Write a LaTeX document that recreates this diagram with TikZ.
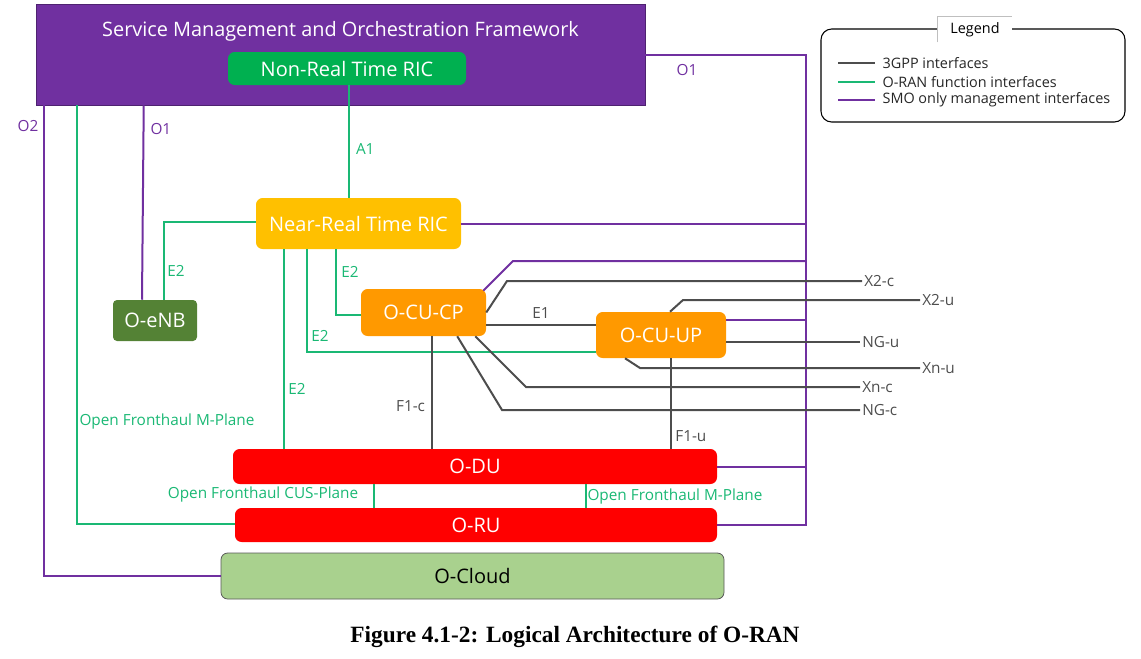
\documentclass[tikz,border=0pt]{standalone}
\usepackage{fontspec}
\setmainfont{Open Sans}
\newfontfamily\captionfont{Liberation Serif}
\usepackage{xcolor}
\definecolor{smocolour}{RGB}{112,48,160}
\definecolor{nonrtcolour}{RGB}{0,176,80}
\definecolor{nearrtcolour}{RGB}{255,192,0}
\definecolor{enbcolour}{RGB}{84,130,53}
\definecolor{cucolour}{RGB}{255,153,0}
\definecolor{ducolour}{RGB}{255,0,0}
\definecolor{cloudcolour}{RGB}{169,209,142}
\definecolor{gppcolour}{RGB}{77,77,77}
\definecolor{orancolour}{RGB}{26,184,116}
\usetikzlibrary{calc}
\tikzstyle{smobox} = [rectangle, fill=smocolour, draw=smocolour!70!black, line width=0.4pt, inner sep=0pt]
\tikzstyle{block} = [rectangle, rounded corners=5pt, text centered, text=white, inner sep=0pt, font=\fontsize{15}{17}\selectfont]
\tikzstyle{cloudblock} = [block, fill=cloudcolour, draw=gray!70!black, line width=0.6pt, text=black]
\tikzstyle{gppline} = [line width=1.5pt, draw=gppcolour]
\tikzstyle{oranline} = [line width=1.5pt, draw=orancolour]
\tikzstyle{smoline} = [line width=1.5pt, draw=smocolour]
\tikzstyle{gpplabel} = [text=gppcolour, inner sep=1.5pt, font=\fontsize{11.5}{13}\selectfont]
\tikzstyle{oranlabel} = [gpplabel, text=orancolour]
\tikzstyle{smolabel} = [gpplabel, text=smocolour]
\tikzstyle{legendtext} = [anchor=west, inner sep=1pt, text=black!85, font=\fontsize{10.8}{12}\selectfont]

\begin{document}
\begin{tikzpicture}[x=0.75pt, y=-0.75pt]
	\useasboundingbox (0,0) rectangle (1141,658);
	% functions
	\node (smo) [smobox, minimum width=456.75pt, minimum height=75.75pt] at (340.5,54.5) {};
	\node (smotitle) [text=white, font=\fontsize{14.9}{16}\selectfont] at (340.5,31) {Service Management and Orchestration Framework};
	\node (nonrt) [block, fill=nonrtcolour, minimum width=178.5pt, minimum height=24.75pt] at (347,68.5) {Non-Real Time RIC};
	\node (nearrt) [block, fill=nearrtcolour, minimum width=153.75pt, minimum height=38.25pt] at (358.5,223.5) {Near-Real Time RIC};
	\node (oenb) [block, fill=enbcolour, rounded corners=3pt, minimum width=63pt, minimum height=30.75pt] at (155,320.5) {O-eNB};
	\node (cucp) [block, fill=cucolour, minimum width=93.75pt, minimum height=35.25pt] at (423.5,312.5) {O-CU-CP};
	\node (cuup) [block, fill=cucolour, minimum width=97.5pt, minimum height=34.5pt] at (661,335) {O-CU-UP};
	\node (odu) [block, fill=ducolour, minimum width=363pt, minimum height=26.25pt] at (475,466.5) {O-DU};
	\node (oru) [block, fill=ducolour, minimum width=361.5pt, minimum height=25.5pt] at (476,525) {O-RU};
	\node (ocloud) [cloudblock, minimum width=377.25pt, minimum height=34.5pt] at (472.5,576) {O-Cloud};
	% end labels of the 3GPP interfaces
	\node (x2c) [gpplabel, anchor=west] at (862,281) {X2-c};
	\node (x2u) [gpplabel, anchor=west] at (920,300) {X2-u};
	\node (ngu) [gpplabel, anchor=west] at (860,342) {NG-u};
	\node (xnu) [gpplabel, anchor=west] at (920,368) {Xn-u};
	\node (xnc) [gpplabel, anchor=west] at (860,387) {Xn-c};
	\node (ngc) [gpplabel, anchor=west] at (860,410) {NG-c};
	% line ends on the boxes
	\coordinate (trunk) at (806,300);
	\coordinate (cpbend) at (513,261);
	\coordinate (upo1) at ($(cuup.east)+(0,-15)$);
	\coordinate (a1top) at ($(nonrt.south)+(2,0)$);
	\coordinate (e2du) at ($(nearrt.south)+(-74.5,0)$);
	\coordinate (cusdu) at ($(odu.south)+(-101,0)$);
	\coordinate (mpdu) at ($(odu.south)+(111,0)$);
	\coordinate (e1cp) at ($(cucp.east)+(0,12.5)$);
	\coordinate (f1ccp) at ($(cucp.south)+(8.5,0)$);
	\coordinate (f1uup) at ($(cuup.south)+(10,0)$);
	% SMO management interfaces
	\draw [smoline] (smo.east) -| (trunk) |- (oru.east);
	\node (o1right) [smolabel] at (687,70) {O1};
	\draw [smoline] (nearrt.east) -- (nearrt.east -| trunk);
	\draw [smoline] ($(cucp.north east)+(-3,2)$) -- (cpbend) -- (cpbend -| trunk);
	\draw [smoline] (upo1) -- (upo1 -| trunk);
	\draw [smoline] (odu.east) -- (odu.east -| trunk);
	\draw [smoline] ($(smo.south west)+(108,0)$) -- node[smolabel, pos=0.12, anchor=west, xshift=3pt] {O1} ($(oenb.north)+(-13,0)$);
	\draw [smoline] ($(smo.south west)+(8,0)$) |- (ocloud.west);
	\node (o2) [smolabel] at (28,126) {O2};
	% O-RAN function interfaces
	\draw [oranline] (a1top) -- node[oranlabel, pos=0.57, anchor=west, xshift=3pt] {A1} (a1top |- nearrt.north);
	\draw [oranline] ($(nearrt.west)+(0,-1.5)$) -| ($(oenb.north)+(9,0)$);
	\node (e2enb) [oranlabel] at (176,271) {E2};
	\draw [oranline] ($(nearrt.south)+(-22.5,0)$) |- ($(cucp.west)+(0,2.5)$);
	\node (e2cucp) [oranlabel] at (350,272) {E2};
	\draw [oranline] ($(nearrt.south)+(-51.5,0)$) |- ($(cuup.west)+(0,17)$);
	\node (e2cuup) [oranlabel] at (320,336) {E2};
	\draw [oranline] (e2du) -- node[oranlabel, pos=0.7, anchor=west, xshift=1pt] {E2} (e2du |- odu.north);
	\draw [oranline] ($(smo.south west)+(41,0)$) |- ($(oru.west)+(0,-1)$);
	\node (mplaneleft) [oranlabel] at (167,422) {Open Fronthaul M-Plane};
	\draw [oranline] (cusdu) -- (cusdu |- oru.north);
	\node (cusplane) [oranlabel] at (263,495) {Open Fronthaul CUS-Plane};
	\draw [oranline] (mpdu) -- (mpdu |- oru.north);
	\node (mplaneright) [oranlabel] at (675,497) {Open Fronthaul M-Plane};
	% 3GPP interfaces
	\draw [gppline] (e1cp) -- node[gpplabel, above=3pt] {E1} (e1cp -| cuup.west);
	\draw [gppline] (f1ccp) -- node[gpplabel, pos=0.62, anchor=east, xshift=-3pt] {F1-c} (f1ccp |- odu.north);
	\draw [gppline] (f1uup) -- node[gpplabel, pos=0.86, anchor=west, xshift=1pt] {F1-u} (f1uup |- odu.north);
	\draw [gppline] (cucp.east) -- (507,281) -- (x2c.west);
	\draw [gppline] ($(cucp.south east)+(-11,0)$) -- (526,387) -- (xnc.west);
	\draw [gppline] ($(cucp.south east)+(-29,0)$) -- (502,410) -- (ngc.west);
	\draw [gppline] ($(cuup.north)+(9,0)$) -- (683,300) -- (x2u.west);
	\draw [gppline] (ngu.west -| cuup.east) -- (ngu.west);
	\draw [gppline] ($(cuup.south)+(-36,0)$) -- (640,368) -- (xnu.west);
	% legend
	\node (legend) [rectangle, rounded corners=8pt, draw=black, line width=0.8pt, minimum width=228pt, minimum height=69.75pt] at (973,75.5) {};
	\node (legendtitle) [fill=white, inner sep=0pt, minimum width=55.5pt, minimum height=18.75pt, font=\fontsize{10.8}{12}\selectfont] at (975,29.5) {Legend};
	\draw [gray!50, line width=0.6pt] (legendtitle.south west) |- (legendtitle.north east);
	\node (leg1) [legendtext] at (881,63) {3GPP interfaces};
	\node (leg2) [legendtext] at (881,82) {O-RAN function interfaces};
	\node (leg3) [legendtext] at (881,100) {SMO only management interfaces};
	\draw [gppline] ($(leg1.west)+(-43,0)$) -- ($(leg1.west)+(-6,0)$);
	\draw [oranline] ($(leg2.west)+(-43,0)$) -- ($(leg2.west)+(-6,0)$);
	\draw [smoline] ($(leg3.west)+(-43,0)$) -- ($(leg3.west)+(-6,0)$);
	% caption
	\node (caption) [font=\captionfont\bfseries\fontsize{17.5}{20}\selectfont] at (575,637) {Figure 4.1-2: Logical Architecture of O-RAN};
\end{tikzpicture}
\end{document}
